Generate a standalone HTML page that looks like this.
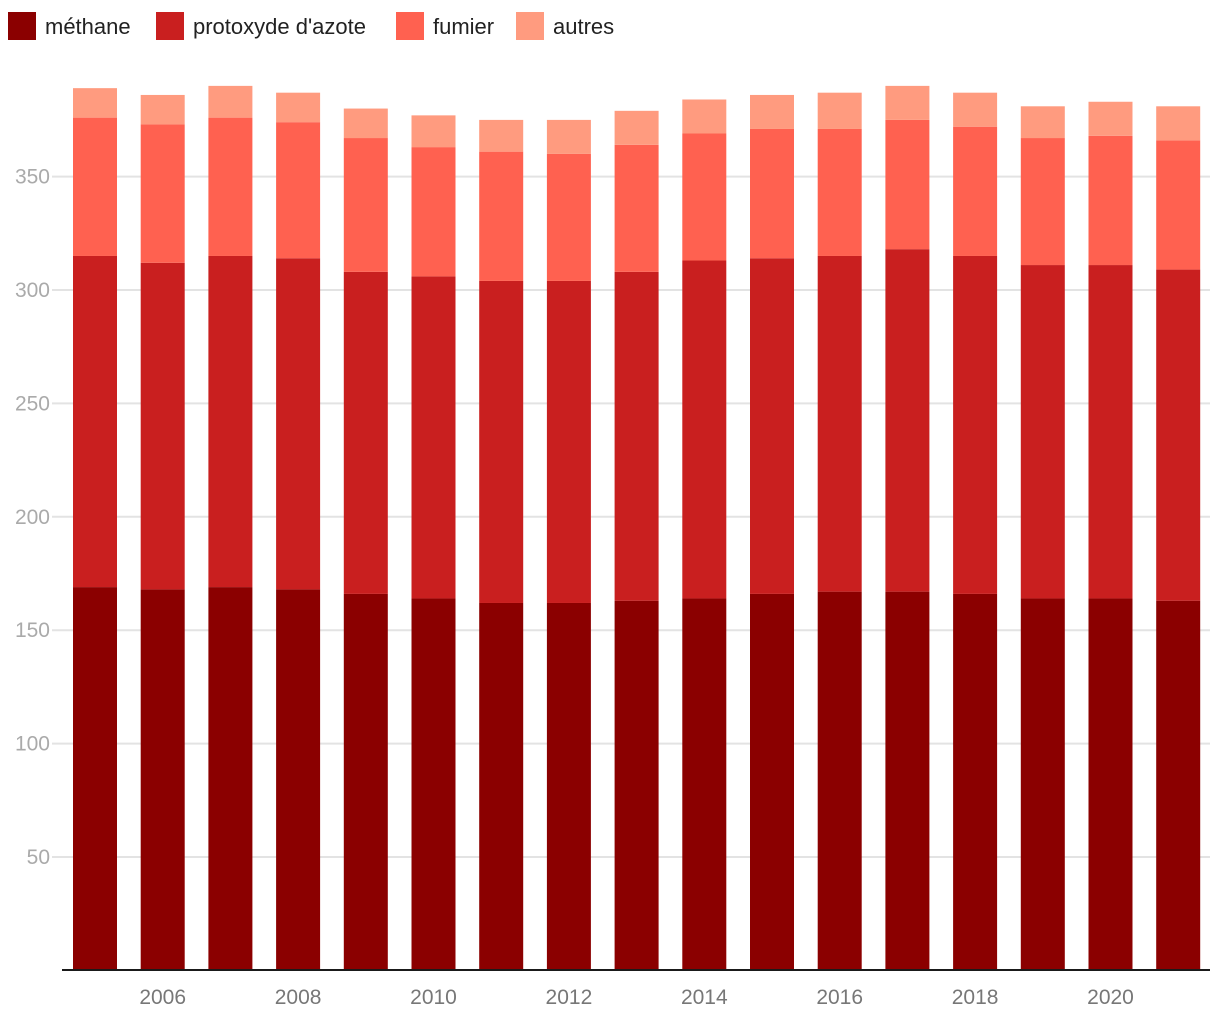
<!DOCTYPE html>
<html><head><meta charset="utf-8"><style>
body{margin:0;background:#fff;font-family:"Liberation Sans",sans-serif;}
svg{display:block}
</style></head><body>
<svg id="chart" width="1220" height="1020">
<g id="legend"></g>
<g id="grid"></g>
<g id="bars"></g>
<g id="axes"></g>
</svg>
<script>
const years=[2005,2006,2007,2008,2009,2010,2011,2012,2013,2014,2015,2016,2017,2018,2019,2020,2021];
const methane=[169,168,169,168,166,164,162,162,163,164,166,167,167,166,164,164,163];
const protoxyde=[146,144,146,146,142,142,142,142,145,149,148,148,151,149,147,147,146];
const fumier=[61,61,61,60,59,57,57,56,56,56,57,56,57,57,56,57,57];
const autres=[13,13,14,13,13,14,14,15,15,15,15,16,15,15,14,15,15];
const seriesNames=["méthane","protoxyde d'azote","fumier","autres"];
const seriesColors=["#8b0000","#c91f1f","#ff6150","#ff9b7f"];
const yTicks=[50,100,150,200,250,300,350];
const xTickYears=[2006,2008,2010,2012,2014,2016,2018,2020];

const NS="http://www.w3.org/2000/svg";
const y0=970.4, pxPerUnit=2.268;
const yScale=v=>y0-v*pxPerUnit;
const x0=73, step=67.7, bw=44;
const xScale=i=>x0+i*step;
function mk(tag,attrs,parent){const e=document.createElementNS(NS,tag);for(const k in attrs)e.setAttribute(k,attrs[k]);parent.appendChild(e);return e;}

const grid=document.getElementById('grid');
yTicks.forEach(t=>{
  const l=mk('line',{x1:52,x2:1210,y1:yScale(t),y2:yScale(t),stroke:'#e3e3e3','stroke-width':2},grid);
  
  
  const tx=mk('text',{x:50,y:yScale(t)+7,'text-anchor':'end','font-size':21,fill:'#aaa'},grid);
  tx.textContent=t;
  
  
});

const bars=document.getElementById('bars');
const series=[methane,protoxyde,fumier,autres];
years.forEach((yr,i)=>{
  let base=0;
  series.forEach((s,k)=>{
    const v=s[i];
    const r=mk('rect',{x:xScale(i),y:yScale(base+v),width:bw,height:v*pxPerUnit,fill:seriesColors[k]},bars);
    
    
    base+=v;
  });
});

const axes=document.getElementById('axes');
const ax=mk('line',{x1:62,x2:1210,y1:970,y2:970,stroke:'#1a1a1a','stroke-width':2},axes);


xTickYears.forEach(yr=>{
  const i=years.indexOf(yr);
  const t=mk('text',{x:xScale(i)+bw/2,y:1004,'text-anchor':'middle','font-size':21,fill:'#777'},axes);
  t.textContent=yr;
  
  
});

const legend=document.getElementById('legend');
const legX=[8,156,396,516];
seriesNames.forEach((n,k)=>{
  const r=mk('rect',{x:legX[k],y:12,width:28,height:28,fill:seriesColors[k]},legend);
  
  
  const t=mk('text',{x:legX[k]+37,y:34,'font-size':22,fill:'#222'},legend);
  t.textContent=n;
  
  
});
</script>
</body></html>
